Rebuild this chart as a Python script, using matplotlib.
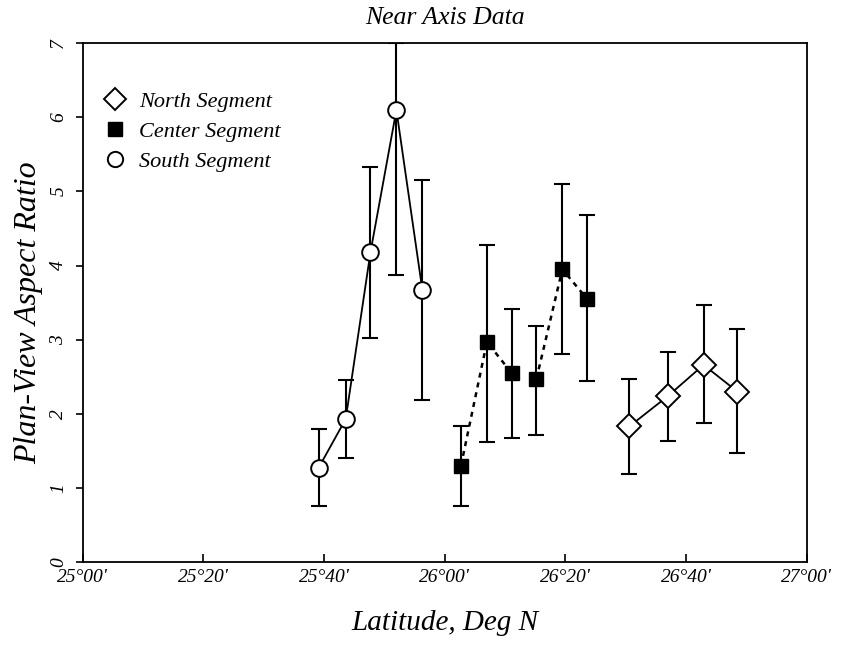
import matplotlib
matplotlib.use("Agg")
import matplotlib.pyplot as plt
from matplotlib.lines import Line2D

# Latitude in minutes north of 25°00'
south_lat = [39.1, 43.6, 47.7, 52.0, 56.3]
south_val = [1.27, 1.93, 4.18, 6.10, 3.67]
south_lo = [0.75, 1.40, 3.02, 3.87, 2.18]
south_hi = [1.79, 2.45, 5.33, 7.00, 5.15]

center_lat = [62.7, 67.0, 71.1, 75.2, 79.5, 83.6]
center_val = [1.30, 2.97, 2.55, 2.47, 3.95, 3.55]
center_lo = [0.76, 1.62, 1.68, 1.72, 2.81, 2.44]
center_hi = [1.83, 4.28, 3.41, 3.18, 5.10, 4.68]

north_lat = [90.6, 97.0, 102.9, 108.5]
north_val = [1.83, 2.24, 2.66, 2.30]
north_lo = [1.19, 1.63, 1.87, 1.47]
north_hi = [2.47, 2.83, 3.47, 3.15]

xtick_min = [0, 20, 40, 60, 80, 100, 120]
xtick_labels = ["25°00'", "25°20'", "25°40'", "26°00'", "26°20'", "26°40'", "27°00'"]
yticks = [0, 1, 2, 3, 4, 5, 6, 7]

serif = ["Liberation Serif", "DejaVu Serif"]
plt.rcParams['font.family'] = serif

fig = plt.figure(figsize=(8.43, 6.46), dpi=100)
ax = fig.add_axes([0.098, 0.130, 0.859, 0.803])

def to_deg(m):
    return [25 + v / 60.0 for v in m]

def errs(v, lo, hi):
    return [[a - b for a, b in zip(v, lo)], [c - a for a, c in zip(v, hi)]]

cap = 6
# South
ax.errorbar(to_deg(south_lat), south_val, yerr=errs(south_val, south_lo, south_hi),
            fmt='none', ecolor='black', elinewidth=1.5, capsize=cap, capthick=1.5, zorder=2)
ax.plot(to_deg(south_lat), south_val, '-', color='black', lw=1.3, zorder=3)
ax.plot(to_deg(south_lat), south_val, 'o', mfc='white', mec='black', mew=1.4, ms=12, zorder=4)

# Center
ax.errorbar(to_deg(center_lat), center_val, yerr=errs(center_val, center_lo, center_hi),
            fmt='none', ecolor='black', elinewidth=1.5, capsize=cap, capthick=1.5, zorder=2)
ax.plot(to_deg(center_lat[:3]), center_val[:3], linestyle=(0, (2, 2)), color='black', lw=1.8, zorder=3)
ax.plot(to_deg(center_lat[3:]), center_val[3:], linestyle=(0, (2, 2)), color='black', lw=1.8, zorder=3)
ax.plot(to_deg(center_lat), center_val, 's', mfc='black', mec='black', ms=10, zorder=4)

# North
ax.errorbar(to_deg(north_lat), north_val, yerr=errs(north_val, north_lo, north_hi),
            fmt='none', ecolor='black', elinewidth=1.5, capsize=cap, capthick=1.5, zorder=2)
ax.plot(to_deg(north_lat), north_val, '-', color='black', lw=1.3, zorder=3)
ax.plot(to_deg(north_lat), north_val, 'D', mfc='white', mec='black', mew=1.4, ms=12, zorder=4)

ax.set_xlim(25.0, 27.0)
ax.set_ylim(0, 7)
ax.set_xticks(to_deg(xtick_min))
ax.set_xticklabels(xtick_labels, fontstyle='italic', fontsize=14)
ax.set_yticks(yticks)
ax.set_yticklabels([str(t) for t in yticks], fontstyle='italic', fontsize=14, rotation=90, va='center')
ax.tick_params(axis='x', direction='in', length=6, width=1.2, pad=5)
ax.tick_params(axis='y', direction='out', length=5, width=1.2, pad=6)
for s in ax.spines.values():
    s.set_linewidth(1.3)

ax.set_title("Near Axis Data", fontstyle='italic', fontsize=18.5, pad=14)
ax.set_xlabel("Latitude, Deg N", fontstyle='italic', fontsize=21, labelpad=17)
ax.set_ylabel("Plan-View Aspect Ratio", fontstyle='italic', fontsize=23)
ax.yaxis.set_label_coords(-0.055, 0.48)

handles = [
    Line2D([], [], linestyle='none', marker='D', mfc='white', mec='black', mew=1.4, ms=11),
    Line2D([], [], linestyle='none', marker='s', mfc='black', mec='black', ms=10),
    Line2D([], [], linestyle='none', marker='o', mfc='white', mec='black', mew=1.4, ms=11),
]
labels = ["North Segment", "Center Segment", "South Segment"]
leg = ax.legend(handles, labels, loc='upper left', bbox_to_anchor=(0.029, 0.907), frameon=False,
                prop={'family': serif, 'style': 'italic', 'size': 16},
                handlelength=1.0, handletextpad=0.6, labelspacing=0.42,
                borderaxespad=0.0, borderpad=0.0)

fig.savefig("out.png", dpi=100)
